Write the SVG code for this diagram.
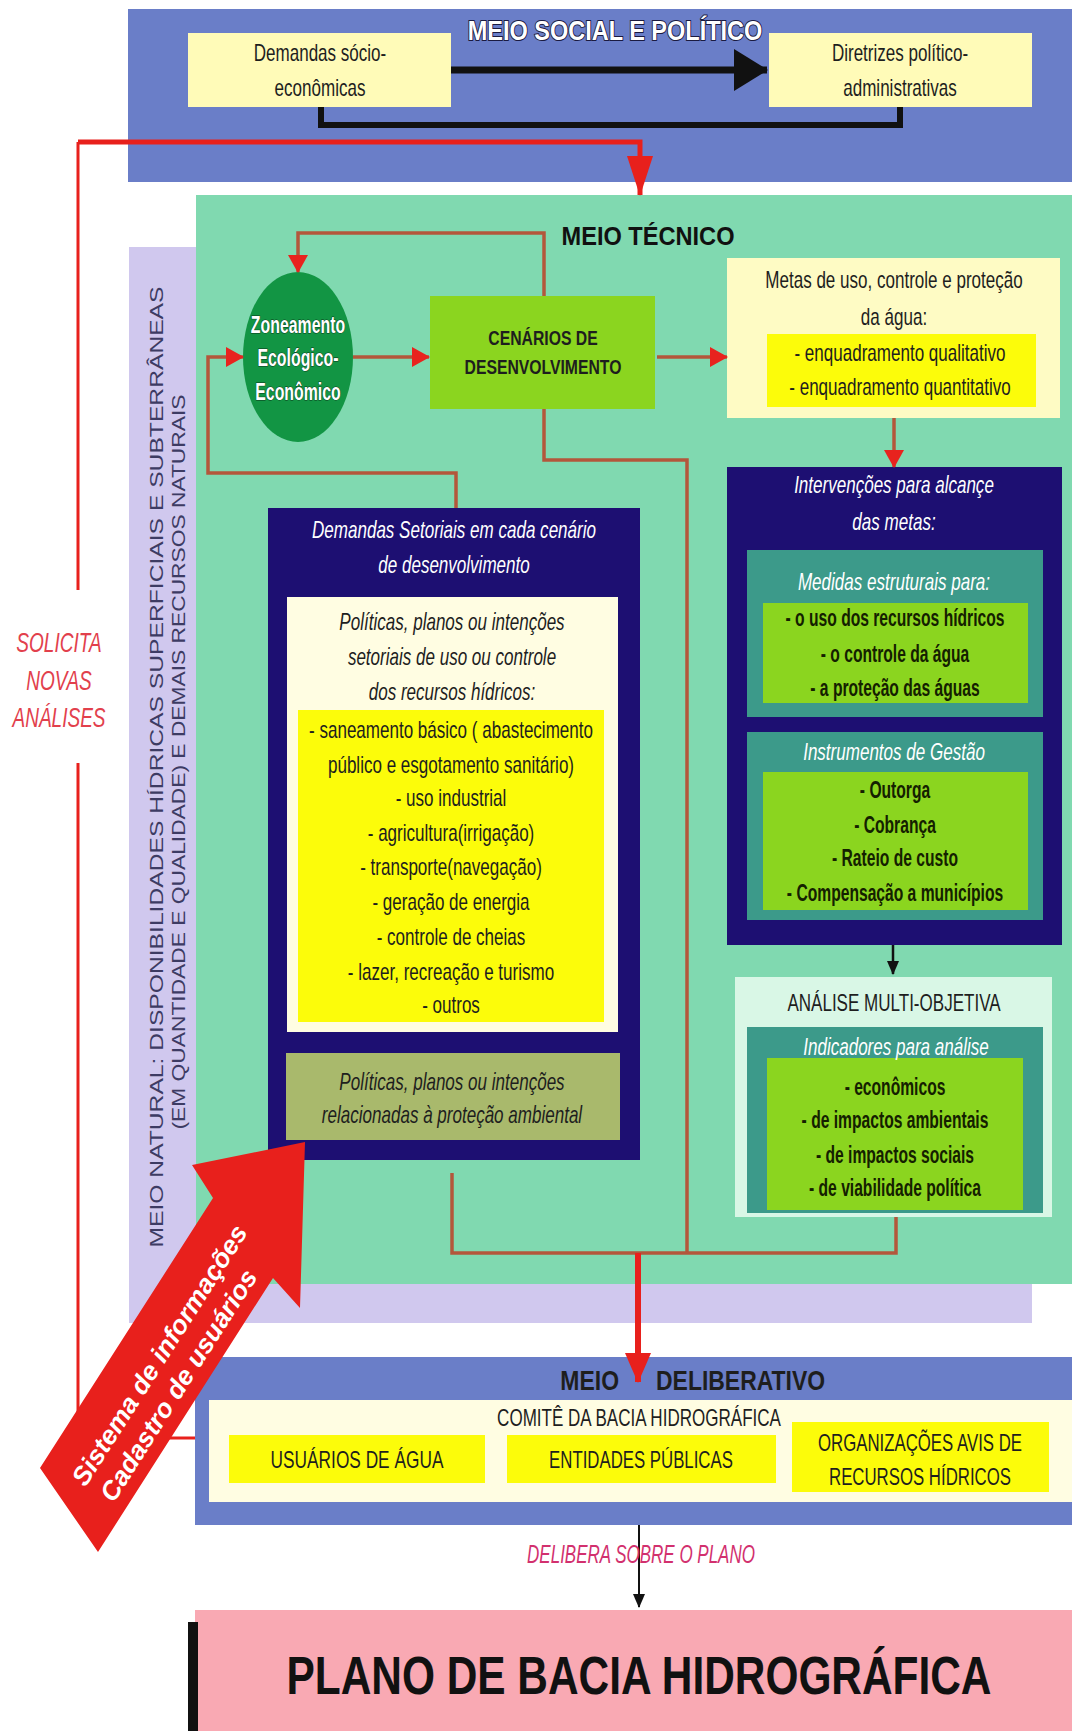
<svg xmlns="http://www.w3.org/2000/svg" width="1072" height="1731" viewBox="0 0 1072 1731">
  <defs>
    <style>
      .n { font-family: "Liberation Sans", Arial, sans-serif; font-size: 24px; fill: #1e1e1e; text-anchor: middle; }
      .w { fill: #ffffff; }
      .i { font-style: italic; }
      .b { font-weight: bold; }
      .g { font-size: 23px; font-weight: bold; fill: #142000; }
      .conn { fill: none; stroke: #b3573b; stroke-width: 3.5; }
      .red { fill: none; stroke: #e8201c; }
      .blk { fill: none; stroke: #111111; }
      .blue { fill: #6a7ec8; }
      .pale { fill: #fffbb8; }
      .cream { fill: #fffde2; }
      .yel { fill: #fcfc0a; }
      .navy { fill: #1d0f72; }
      .teal { fill: #3c9a8a; }
      .lime { fill: #8bd51f; }
    </style>
    <marker id="ah" viewBox="0 0 18 20" refX="17" refY="10" markerWidth="18" markerHeight="20" orient="auto" markerUnits="userSpaceOnUse">
      <path d="M0,0 L18,10 L0,20 Z" fill="#e8231e"/>
    </marker>
    <marker id="ahBig" viewBox="0 0 40 26" refX="39" refY="13" markerWidth="40" markerHeight="26" orient="auto" markerUnits="userSpaceOnUse">
      <path d="M0,0 L40,13 L0,26 Z" fill="#e8201c"/>
    </marker>
    <marker id="ahRed" viewBox="0 0 30 26" refX="29" refY="13" markerWidth="30" markerHeight="26" orient="auto" markerUnits="userSpaceOnUse">
      <path d="M0,0 L30,13 L0,26 Z" fill="#e8201c"/>
    </marker>
    <marker id="ahBlack" viewBox="0 0 34 42" refX="33" refY="21" markerWidth="34" markerHeight="42" orient="auto" markerUnits="userSpaceOnUse">
      <path d="M0,0 L34,21 L0,42 Z" fill="#111111"/>
    </marker>
    <marker id="ahSmall" viewBox="0 0 14 12" refX="13" refY="6" markerWidth="14" markerHeight="12" orient="auto" markerUnits="userSpaceOnUse">
      <path d="M0,0 L14,6 L0,12 Z" fill="#111111"/>
    </marker>
  </defs>

  <rect width="1072" height="1731" fill="#ffffff"/>

  <!-- social and political layer; condensed lettering = horizontal scale -->
  <g id="meio-social">
    <rect class="blue" x="128" y="9" width="944" height="173"/>
    <g class="n b w" transform="translate(615 0) scale(.84 1)" style="font-size:28px">
      <text y="40" stroke="#1a1a40" stroke-width="2" paint-order="stroke">MEIO SOCIAL E POLÍTICO</text>
    </g>
  </g>
  <g id="demandas-socio">
    <rect class="pale" x="188" y="33" width="263" height="74"/>
    <g class="n" transform="translate(320 0) scale(.71 1)">
      <text y="61">Demandas sócio-</text>
      <text y="96">econômicas</text>
    </g>
  </g>
  <g id="diretrizes">
    <rect class="pale" x="769" y="33" width="263" height="74"/>
    <g class="n" transform="translate(900 0) scale(.71 1)">
      <text y="61">Diretrizes político-</text>
      <text y="96">administrativas</text>
    </g>
  </g>

  <!-- natural layer (behind the technical layer) -->
  <g id="meio-natural">
    <rect x="129" y="247" width="903" height="1076" fill="#d0c8ee"/>
    <text transform="translate(163,767) rotate(-90)" font-family="Liberation Sans, Arial, sans-serif" font-size="19" fill="#3d3b63" text-anchor="middle" textLength="961" lengthAdjust="spacingAndGlyphs">MEIO NATURAL: DISPONIBILIDADES HÍDRICAS SUPERFICIAIS E SUBTERRÂNEAS</text>
    <text transform="translate(185,762) rotate(-90)" font-family="Liberation Sans, Arial, sans-serif" font-size="19" fill="#3d3b63" text-anchor="middle" textLength="735" lengthAdjust="spacingAndGlyphs">(EM QUANTIDADE E QUALIDADE) E DEMAIS RECURSOS NATURAIS</text>
  </g>

  <!-- technical layer -->
  <g id="meio-tecnico">
    <rect x="196" y="195" width="876" height="1089" fill="#80d9b0"/>
    <text x="648" y="245" font-family="Liberation Sans, Arial, sans-serif" font-weight="bold" font-size="25" fill="#111" text-anchor="middle" textLength="173" lengthAdjust="spacingAndGlyphs">MEIO TÉCNICO</text>
  </g>

  <g id="zoneamento">
    <ellipse cx="298" cy="357" rx="55" ry="85" fill="#129544"/>
    <g class="n b w" transform="translate(298 0) scale(.69 1)" style="font-size:23px">
      <text y="333" stroke="#0a3a1a" stroke-width="1" paint-order="stroke">Zoneamento</text>
      <text y="366" stroke="#0a3a1a" stroke-width="1" paint-order="stroke">Ecológico-</text>
      <text y="400" stroke="#0a3a1a" stroke-width="1" paint-order="stroke">Econômico</text>
    </g>
  </g>

  <g id="cenarios">
    <rect class="lime" x="430" y="296" width="225" height="113"/>
    <g class="n b" transform="translate(543 0) scale(.75 1)" style="font-size:21px">
      <text y="345">CENÁRIOS DE</text>
      <text y="374">DESENVOLVIMENTO</text>
    </g>
  </g>

  <g id="metas">
    <rect x="727" y="258" width="333" height="160" fill="#fefbc4"/>
    <rect class="yel" x="767" y="334" width="269" height="73"/>
    <g class="n" transform="translate(894 0) scale(.71 1)">
      <text y="288">Metas de uso, controle e proteção</text>
      <text y="325">da água:</text>
    </g>
    <g class="n" transform="translate(900 0) scale(.71 1)">
      <text y="361">- enquadramento qualitativo</text>
      <text y="395">- enquadramento quantitativo</text>
    </g>
  </g>

  <g id="intervencoes">
    <rect class="navy" x="727" y="467" width="335" height="478"/>
    <rect class="teal" x="747" y="550" width="296" height="167"/>
    <rect class="lime" x="763" y="603" width="265" height="100"/>
    <rect class="teal" x="747" y="732" width="296" height="188"/>
    <rect class="lime" x="763" y="772" width="265" height="138"/>
    <g class="n i w" transform="translate(894 0) scale(.71 1)">
      <text y="493">Intervenções para alcançe</text>
      <text y="530">das metas:</text>
      <text y="590">Medidas estruturais para:</text>
      <text y="760">Instrumentos de Gestão</text>
    </g>
    <g class="n g" transform="translate(895 0) scale(.68 1)">
      <text y="626">- o uso dos recursos hídricos</text>
      <text y="662">- o controle da água</text>
      <text y="696">- a proteção das águas</text>
      <text y="798">- Outorga</text>
      <text y="833">- Cobrança</text>
      <text y="866">- Rateio de custo</text>
      <text y="901">- Compensação a municípios</text>
    </g>
  </g>

  <g id="analise">
    <rect x="735" y="977" width="317" height="240" fill="#d9f7e6"/>
    <rect class="teal" x="747" y="1027" width="296" height="186"/>
    <rect class="lime" x="767" y="1058" width="256" height="152"/>
    <g class="n" transform="translate(894 0) scale(.71 1)">
      <text y="1011">ANÁLISE MULTI-OBJETIVA</text>
    </g>
    <g class="n i w" transform="translate(896 0) scale(.71 1)">
      <text y="1055">Indicadores para análise</text>
    </g>
    <g class="n g" transform="translate(895 0) scale(.68 1)">
      <text y="1095">- econômicos</text>
      <text y="1128">- de impactos ambientais</text>
      <text y="1163">- de impactos sociais</text>
      <text y="1196">- de viabilidade política</text>
    </g>
  </g>

  <g id="demandas-setoriais">
    <rect class="navy" x="268" y="508" width="372" height="652"/>
    <rect class="cream" x="287" y="597" width="331" height="435"/>
    <rect class="yel" x="298" y="710" width="306" height="312"/>
    <rect x="286" y="1053" width="334" height="87" fill="#a9b96c"/>
    <g class="n i w" transform="translate(454 0) scale(.71 1)">
      <text y="538">Demandas Setoriais em cada cenário</text>
      <text y="573">de desenvolvimento</text>
    </g>
    <g class="n i" transform="translate(452 0) scale(.71 1)">
      <text y="630">Políticas, planos ou intenções</text>
      <text y="665">setoriais de uso ou controle</text>
      <text y="700">dos recursos hídricos:</text>
      <text y="1090">Políticas, planos ou intenções</text>
      <text y="1123">relacionadas à proteção ambiental</text>
    </g>
    <g class="n" transform="translate(451 0) scale(.71 1)">
      <text y="738">- saneamento básico ( abastecimento</text>
      <text y="773">público e esgotamento sanitário)</text>
      <text y="806">- uso industrial</text>
      <text y="841">- agricultura(irrigação)</text>
      <text y="875">- transporte(navegação)</text>
      <text y="910">- geração de energia</text>
      <text y="945">- controle de cheias</text>
      <text y="980">- lazer, recreação e turismo</text>
      <text y="1013">- outros</text>
    </g>
  </g>

  <!-- deliberative layer -->
  <g id="meio-deliberativo">
    <rect class="blue" x="195" y="1357" width="877" height="168"/>
    <g class="n b" transform="translate(619 0) scale(.82 1)" style="font-size:28px;text-anchor:end">
      <text y="1390">MEIO</text>
    </g>
    <g class="n b" transform="translate(656 0) scale(.82 1)" style="font-size:28px;text-anchor:start">
      <text y="1390">DELIBERATIVO</text>
    </g>
    <rect class="cream" x="209" y="1400" width="863" height="102"/>
    <g class="n" transform="translate(639 0) scale(.71 1)">
      <text y="1426">COMITÊ DA BACIA HIDROGRÁFICA</text>
    </g>
  </g>
  <g id="usuarios">
    <rect class="yel" x="229" y="1435" width="256" height="48"/>
    <g class="n" transform="translate(357 0) scale(.72 1)">
      <text y="1468">USUÁRIOS DE ÁGUA</text>
    </g>
  </g>
  <g id="entidades">
    <rect class="yel" x="507" y="1435" width="269" height="48"/>
    <g class="n" transform="translate(641 0) scale(.7 1)">
      <text y="1468">ENTIDADES PÚBLICAS</text>
    </g>
  </g>
  <g id="organizacoes">
    <rect class="yel" x="792" y="1422" width="257" height="70"/>
    <g class="n" transform="translate(920 0) scale(.7 1)">
      <text y="1451">ORGANIZAÇÕES AVIS DE</text>
      <text y="1485">RECURSOS HÍDRICOS</text>
    </g>
  </g>

  <g id="plano">
    <rect x="195" y="1610" width="877" height="121" fill="#f9a9b3"/>
    <rect x="188" y="1622" width="10" height="109" fill="#111111"/>
    <g class="n b" transform="translate(639 0) scale(.8 1)" style="font-size:53px;fill:#111">
      <text y="1694">PLANO DE BACIA HIDROGRÁFICA</text>
    </g>
  </g>

  <!-- connectors -->
  <g id="connectors">
    <path class="blk" d="M451,70 H767" stroke-width="7" marker-end="url(#ahBlack)"/>
    <path class="blk" d="M321,107 V125 H900 V107" stroke-width="6"/>

    <path class="red" d="M78,142 H640 V195" stroke-width="5" marker-end="url(#ahBig)"/>
    <path class="red" d="M78,142 V590" stroke-width="3"/>
    <path class="red" d="M78,763 V1438 H195" stroke-width="3"/>

    <path class="conn" d="M544,296 V233 H298 V272" marker-end="url(#ah)"/>
    <path class="conn" d="M353,357 H429" marker-end="url(#ah)"/>
    <path class="conn" d="M456,508 V473 H208 V357 H243" marker-end="url(#ah)"/>
    <path class="conn" d="M657,357 H727" marker-end="url(#ah)"/>
    <path class="conn" d="M894,418 V467" marker-end="url(#ah)"/>
    <path class="conn" d="M544,409 V460 H687 V1253"/>
    <path class="conn" d="M452,1173 V1253 H896 V1217"/>

    <path class="blk" d="M893,945 V974" stroke-width="2.5" marker-end="url(#ahSmall)"/>
    <path class="red" d="M638,1253 V1382" stroke-width="6" marker-end="url(#ahRed)"/>
    <path class="blk" d="M639,1525 V1607" stroke-width="2" marker-end="url(#ahSmall)"/>
  </g>

  <g class="n i" transform="translate(59 0) scale(.68 1)" style="font-size:28px;fill:#e2404c">
    <text y="652">SOLICITA</text>
    <text y="690">NOVAS</text>
    <text y="727">ANÁLISES</text>
  </g>

  <g class="n i" transform="translate(641 0) scale(.68 1)" style="font-size:25px;fill:#d2306e">
    <text y="1563">DELIBERA SOBRE O PLANO</text>
  </g>

  <!-- information system arrow -->
  <g id="sistema-informacoes">
    <polygon points="305,1142 300,1308 273,1278 98,1552 40,1468 213,1198 192,1165" fill="#e8201c"/>
    <text transform="translate(167,1360) rotate(-57.5)" font-family="Liberation Sans, Arial, sans-serif" font-weight="bold" font-style="italic" font-size="26" fill="#ffffff" text-anchor="middle" textLength="303" lengthAdjust="spacingAndGlyphs">Sistema de informações</text>
    <text transform="translate(186,1390) rotate(-57.5)" font-family="Liberation Sans, Arial, sans-serif" font-weight="bold" font-style="italic" font-size="26" fill="#ffffff" text-anchor="middle" textLength="269" lengthAdjust="spacingAndGlyphs">Cadastro de usuários</text>
  </g>
</svg>
